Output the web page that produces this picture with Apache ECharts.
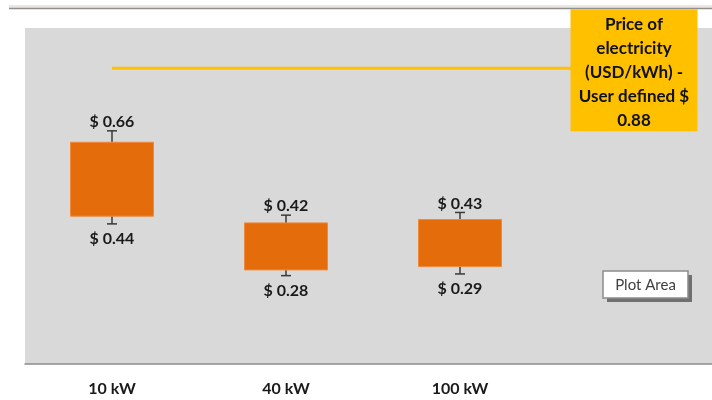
<!DOCTYPE html>
<html>
<head>
<meta charset="utf-8">
<script src="https://cdn.jsdelivr.net/npm/echarts@6/dist/echarts.min.js"></script>
<style>
  html, body { margin: 0; padding: 0; background: #ffffff; }
  #chart { width: 712px; height: 400px; }
</style>
</head>
<body>
<div id="chart"></div>
<script>
// System sizes (the last slot carries the price callout)
const categories = ['10 kW', '40 kW', '100 kW', ''];
// Cost range per system size (USD/kWh)
const costHigh = [0.66, 0.42, 0.43];
const costLow = [0.44, 0.28, 0.29];
// Whisker ends around each range
const whiskerHigh = [0.694, 0.443, 0.451];
const whiskerLow = [0.417, 0.263, 0.268];
// User defined electricity price (USD/kWh)
const priceLine = [0.88, 0.88, 0.88, 0.88];
const priceTitle = ['Price of', 'electricity', '(USD/kWh) -', 'User defined $'];

const FONT = 'Lato';
const chart = echarts.init(document.getElementById('chart'), null, { renderer: 'canvas' });

const rangeData = costHigh.map((h, i) => [i, costLow[i], h, whiskerLow[i], whiskerHigh[i]]);

function renderRange(params, api) {
  const x = api.value(0);
  const lo = api.value(1), hi = api.value(2), wLo = api.value(3), wHi = api.value(4);
  const pLo = api.coord([x, lo]);
  const pHi = api.coord([x, hi]);
  const pWLo = api.coord([x, wLo]);
  const pWHi = api.coord([x, wHi]);
  const bw = 83, cap = 5;
  const cx = pLo[0];
  const whiskerStyle = { stroke: '#3a3a3a', lineWidth: 1.5 };
  const labelStyle = { fill: '#1a1a1a', font: 'bold 16px ' + FONT, textAlign: 'center' };
  return {
    type: 'group',
    children: [
      { type: 'line', shape: { x1: cx, y1: pHi[1], x2: cx, y2: pWHi[1] }, style: whiskerStyle },
      { type: 'line', shape: { x1: cx - cap, y1: pWHi[1], x2: cx + cap, y2: pWHi[1] }, style: whiskerStyle },
      { type: 'line', shape: { x1: cx, y1: pLo[1], x2: cx, y2: pWLo[1] }, style: whiskerStyle },
      { type: 'line', shape: { x1: cx - cap, y1: pWLo[1], x2: cx + cap, y2: pWLo[1] }, style: whiskerStyle },
      {
        type: 'rect',
        shape: { x: cx - bw / 2, y: pHi[1], width: bw, height: pLo[1] - pHi[1] },
        style: { fill: '#e46c0a', stroke: '#ef8a3c', lineWidth: 1 }
      },
      {
        type: 'text',
        x: cx, y: pWHi[1] - 1,
        style: Object.assign({ text: '$ ' + hi.toFixed(2), textVerticalAlign: 'bottom' }, labelStyle)
      },
      {
        type: 'text',
        x: cx, y: pWLo[1] + 7,
        style: Object.assign({ text: '$ ' + lo.toFixed(2), textVerticalAlign: 'top' }, labelStyle)
      }
    ]
  };
}

const option = {
  backgroundColor: '#ffffff',
  animation: false,
  grid: {
    left: 25, width: 696, top: 28, bottom: 36,
    outerBoundsMode: 'none',
    containLabel: false,
    show: true, backgroundColor: '#d9d9d9', borderWidth: 0
  },
  xAxis: {
    type: 'category',
    data: categories,
    axisLine: { show: true, lineStyle: { color: '#8c8c8c', width: 1.5 } },
    axisTick: { show: false },
    axisLabel: { color: '#1a1a1a', fontFamily: FONT, fontWeight: 'bold', fontSize: 16, margin: 17 },
    splitLine: { show: false }
  },
  yAxis: {
    type: 'value',
    min: 0, max: 1,
    show: false,
    splitLine: { show: false }
  },
  series: [
    {
      type: 'line',
      data: priceLine,
      symbol: 'none',
      lineStyle: { color: '#ffc000', width: 3 },
      z: 2
    },
    {
      type: 'custom',
      renderItem: renderRange,
      data: rangeData,
      encode: { x: 0, y: [1, 2, 3, 4] },
      z: 3
    },
    {
      type: 'scatter',
      data: [[3, priceLine[3]]],
      symbol: 'rect',
      symbolSize: [127, 122],
      symbolOffset: [0, 2],
      itemStyle: { color: '#ffc000', opacity: 1 },
      label: {
        show: true,
        position: 'inside',
        offset: [0, 2],
        formatter: (p) => priceTitle.join('\n') + '\n' + p.value[1].toFixed(2),
        color: '#111111',
        fontFamily: FONT,
        fontWeight: 'bold',
        fontSize: 17,
        lineHeight: 24,
        align: 'center'
      },
      z: 5
    }
  ],
  graphic: [
    {
      type: 'rect',
      shape: { x: 9, y: 5, width: 712, height: 3 },
      style: { fill: '#e9e7df' },
      silent: true
    },
    {
      type: 'line',
      shape: { x1: 9, y1: 8.5, x2: 712, y2: 8.5 },
      style: { stroke: '#8f8f8f', lineWidth: 1.5 },
      silent: true
    },
    // "Plot Area" hover tag with its drop shadow
    {
      type: 'rect',
      shape: { x: 607, y: 275, width: 85, height: 27 },
      style: { fill: '#707070' },
      z: 100
    },
    {
      type: 'rect',
      shape: { x: 603, y: 271, width: 85, height: 27 },
      style: { fill: '#ffffff', stroke: '#8c8c8c', lineWidth: 1.5 },
      z: 101
    },
    {
      type: 'text',
      x: 645.5, y: 285,
      style: {
        text: 'Plot Area', fill: '#404040', font: '15px ' + FONT,
        textAlign: 'center', textVerticalAlign: 'middle'
      },
      z: 102
    }
  ]
};

chart.setOption(option);
</script>
</body>
</html>
